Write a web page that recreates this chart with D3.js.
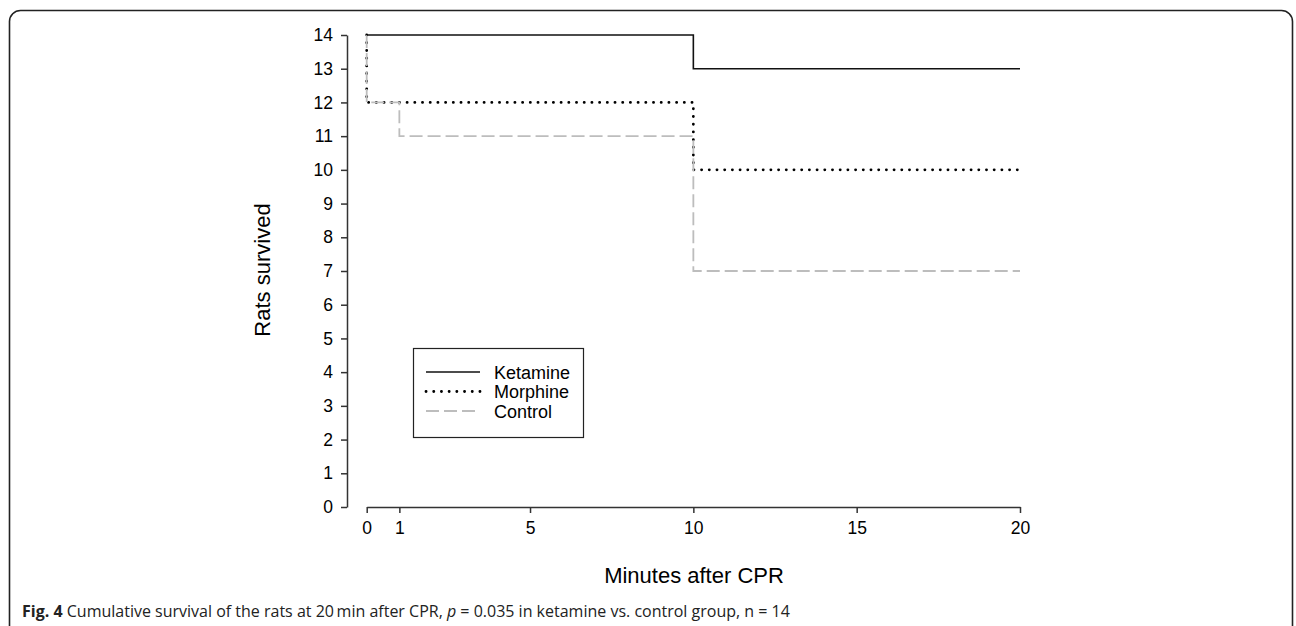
<!DOCTYPE html>
<html>
<head>
<meta charset="utf-8">
<script src="https://cdn.jsdelivr.net/npm/d3@7"></script>
<style>
    body { margin: 0; background: #fff; }
    svg { display: block; }
    .axis text { font-family: "Liberation Sans", Arial, sans-serif; font-size: 17.5px; fill: #000; }
    .axis path, .axis line { stroke: #333; stroke-width: 1.5px; }
</style>
</head>
<body>
<div id="chart"></div>
<script>
// survival steps
const ketamineTimes = [0, 10, 20]
const ketamineValues = [14, 13, 13]
const morphineTimes = [0, 0, 10, 20]
const morphineValues = [14, 12, 10, 10]
const controlTimes = [0, 0, 1, 10, 20]
const controlValues = [14, 12, 11, 7, 7]

const xTicks = [0, 1, 5, 10, 15, 20]
const yTicks = d3.range(0, 15)
const seriesNames = ["Ketamine", "Morphine", "Control"]

const width = 1296,
    height = 626

const svg = d3.select("#chart")
    .append("svg")
    .attr("width", width)
    .attr("height", height)

// outer frame of the figure
svg.append("rect")
    .attr("x", 9.5)
    .attr("y", 10.5)
    .attr("width", 1283)
    .attr("height", 640)
    .attr("rx", 11)
    .attr("fill", "none")
    .attr("stroke", "#222")
    .attr("stroke-width", 1.6)

const x = d3.scaleLinear().domain([0, 20]).range([366.7, 1020])
const y = d3.scaleLinear().domain([0, 14]).range([507, 35])

svg.append("g")
    .attr("class", "y axis")
    .attr("transform", "translate(347,0)")
    .call(d3.axisLeft(y).tickValues(yTicks).tickSize(6).tickSizeOuter(0).tickPadding(8))

svg.append("g")
    .attr("class", "x axis")
    .attr("transform", "translate(0,507)")
    .call(d3.axisBottom(x).tickValues(xTicks).tickSize(6).tickSizeOuter(0).tickPadding(9))

const toPoints = (times, values) => times.map((t, i) => [t, values[i]])

const line = d3.line()
    .x(d => x(d[0]))
    .y(d => y(d[1]))
    .curve(d3.curveStepAfter)

const styles = {
    Ketamine: { stroke: "#111", width: 1.6, dash: null, cap: "butt" },
    Morphine: { stroke: "#000", width: 2.8, dash: "0.1 7.6", cap: "round" },
    Control: { stroke: "#bdbdbd", width: 1.8, dash: "13 5", cap: "butt" }
}

const seriesData = [
    { name: "Morphine", points: toPoints(morphineTimes, morphineValues) },
    { name: "Control", points: toPoints(controlTimes, controlValues) },
    { name: "Ketamine", points: toPoints(ketamineTimes, ketamineValues) }
]

svg.selectAll(".series")
    .data(seriesData)
    .enter()
    .append("path")
    .attr("class", "series")
    .attr("d", d => line(d.points))
    .attr("fill", "none")
    .attr("stroke", d => styles[d.name].stroke)
    .attr("stroke-width", d => styles[d.name].width)
    .attr("stroke-dasharray", d => styles[d.name].dash)
    .attr("stroke-linecap", d => styles[d.name].cap)

// axis titles
svg.append("text")
    .attr("transform", "translate(270,270) rotate(-90)")
    .attr("text-anchor", "middle")
    .style("font-family", "Liberation Sans, Arial, sans-serif")
    .style("font-size", "22px")
    .text("Rats survived")

svg.append("text")
    .attr("x", 694)
    .attr("y", 583)
    .attr("text-anchor", "middle")
    .style("font-family", "Liberation Sans, Arial, sans-serif")
    .style("font-size", "22px")
    .text("Minutes after CPR")

// legend
const legend = svg.append("g").attr("transform", "translate(413,348)")
legend.append("rect")
    .attr("x", 0.5)
    .attr("y", 0.5)
    .attr("width", 170)
    .attr("height", 89)
    .attr("fill", "#fff")
    .attr("stroke", "#222")
    .attr("stroke-width", 1.2)

const rows = legend.selectAll(".row")
    .data(seriesNames)
    .enter()
    .append("g")
    .attr("class", "row")
    .attr("transform", (d, i) => `translate(0,${24 + i * 19.5})`)

rows.append("line")
    .attr("x1", 13)
    .attr("x2", 67)
    .attr("stroke", d => styles[d].stroke)
    .attr("stroke-width", d => styles[d].width)
    .attr("stroke-dasharray", d => styles[d].dash)
    .attr("stroke-linecap", d => styles[d].cap)

rows.append("text")
    .attr("x", 81)
    .attr("y", 6.5)
    .style("font-family", "Liberation Sans, Arial, sans-serif")
    .style("font-size", "18px")
    .text(d => d)

// caption
const caption = svg.append("text")
    .attr("x", 22)
    .attr("y", 617)
    .style("font-family", "Open Sans, sans-serif")
    .style("font-size", "16px")
    .attr("fill", "#222")
caption.append("tspan").style("font-weight", "bold").text("Fig. 4")
caption.append("tspan").text(" Cumulative survival of the rats at 20\u2009min after CPR, ")
caption.append("tspan").style("font-style", "italic").text("p")
caption.append("tspan").text(" = 0.035 in ketamine vs. control group, n = 14")
</script>
</body>
</html>
